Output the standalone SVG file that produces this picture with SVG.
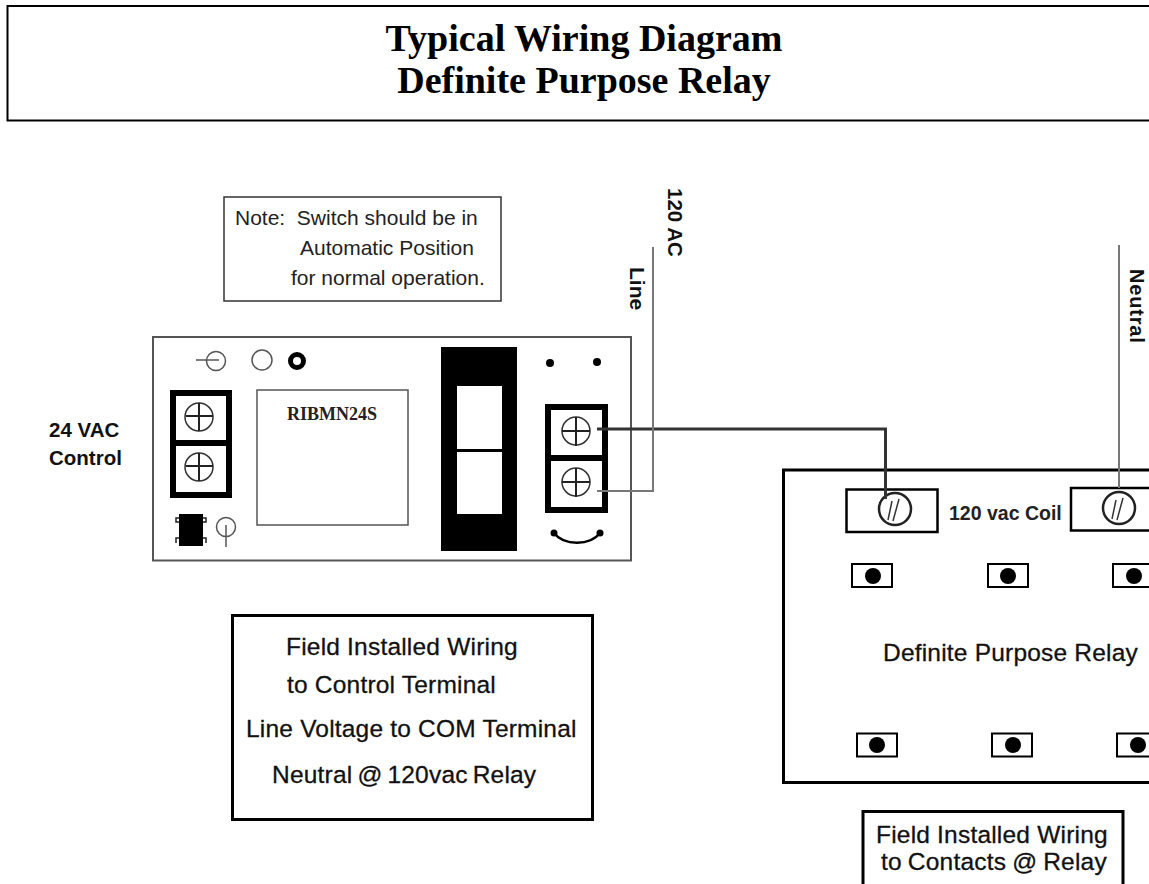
<svg xmlns="http://www.w3.org/2000/svg" width="1149" height="884" viewBox="0 0 1149 884">
<style>
.k{fill:#fff;stroke:#000;stroke-width:3}
.t{fill:#fff;stroke:#000;stroke-width:6}
.s{fill:none;stroke:#333;stroke-width:1.5}
.x{stroke:#222;stroke-width:2;fill:none}
.g{fill:#fff;stroke:#555;stroke-width:1.5}
.sw{fill:none;stroke:#555;stroke-width:1.5}
.w1{fill:none;stroke:#333;stroke-width:3}
.w2{fill:none;stroke:#777;stroke-width:2}
.a{font-family:"Liberation Sans",Arial,sans-serif;fill:#111}
.f{font-size:24.5px;letter-spacing:.2px;stroke:#111;stroke-width:.3}
.n{font-size:21px;fill:#222}
.b{font-weight:bold}
.l{font-size:20.5px}
.v{font-size:21px}
.title{font-family:"Liberation Serif","Times New Roman",serif;font-weight:bold;font-size:38px;fill:#000;text-anchor:middle}
</style>
<g id="header">
<path d="M1149 6H7.500V120.500H1149" class="k" style="stroke-width:2"/>
<text class="title" x="584" y="51">Typical Wiring Diagram</text>
<text class="title" x="584" y="93">Definite Purpose Relay</text>
</g>
<g id="note">
<rect x="224" y="197" width="277" height="104" fill="#fff" stroke="#333" stroke-width="1.500"/>
<text class="a n" x="235" y="225" xml:space="preserve">Note:  Switch should be in</text>
<text class="a n" x="300" y="255">Automatic Position</text>
<text class="a n" x="291" y="285">for normal operation.</text>
</g>
<g id="control-label">
<text class="a b l" x="49" y="437">24 VAC</text>
<text class="a b l" x="49" y="465">Control</text>
</g>
<g id="relay-module">
<rect x="153" y="337" width="478" height="223.500" class="g" style="stroke-width:2"/>
<path d="M196 360H219" class="sw"/><circle cx="216" cy="361" r="9.500" class="sw"/>
<circle cx="262" cy="360" r="10" class="sw"/>
<circle cx="297" cy="361" r="6.500" fill="#fff" stroke="#000" stroke-width="5"/>
<rect x="173" y="393" width="56" height="50" class="t"/>
<rect x="173" y="443" width="56" height="52" class="t"/>
<circle cx="199" cy="417" r="14" class="s"/><path d="M186 416H213M199 403V431" class="x"/>
<circle cx="199" cy="467" r="14" class="s"/><path d="M186 466H213M199 453V481" class="x"/>
<rect x="257" y="390" width="151" height="135" class="g"/>
<text x="332" y="420" font-family="Liberation Serif,serif" font-weight="bold" font-size="18" fill="#222" text-anchor="middle">RIBMN24S</text>
<rect x="179" y="514" width="24" height="32" fill="#000"/>
<path d="M179 518H176V522H179M203 518H206V522H203M176 543V538H179M206 543V538H203" fill="none" stroke="#222" stroke-width="1.500"/>
<circle cx="226" cy="527" r="9.500" class="sw"/><path d="M226 525V547" class="sw"/>
<rect x="441" y="347" width="76" height="204" fill="#000"/>
<rect x="457" y="386" width="45" height="63" fill="#fff"/>
<rect x="457" y="452" width="45" height="62" fill="#fff"/>
<circle cx="550" cy="363" r="4" fill="#000"/>
<circle cx="597" cy="362" r="4" fill="#000"/>
<rect x="548" y="407" width="57" height="51" class="t"/>
<rect x="548" y="458" width="57" height="52" class="t"/>
<circle cx="576" cy="431" r="14" class="s"/><path d="M562 431H590M576 417V446" class="x"/>
<circle cx="576" cy="482" r="14" class="s"/><path d="M562 482H590M576 468V497" class="x"/>
<path d="M554 533C564 546 590 546 600 533" fill="none" stroke="#000" stroke-width="2.500"/>
<circle cx="554" cy="533" r="3.500" fill="#000"/><circle cx="600" cy="533" r="3.500" fill="#000"/>
</g>
<g id="field-note">
<rect x="232.500" y="615.500" width="360" height="204" class="k"/>
<text class="a f" x="286" y="655">Field Installed Wiring</text>
<text class="a f" x="287" y="693">to Control Terminal</text>
<text class="a f" x="246" y="737">Line Voltage to COM Terminal</text>
<text class="a f" x="272" y="783" word-spacing="-2">Neutral @ 120vac Relay</text>
</g>
<g id="definite-purpose-relay">
<path d="M1149 470H783.500V782.500H1149" class="k"/>
<rect x="846.500" y="489.500" width="91" height="42.500" class="k" style="stroke-width:2.500"/>
<rect x="1071" y="488" width="80" height="42.500" class="k" style="stroke-width:2.500"/>
<circle cx="895" cy="509" r="16" fill="#fff" stroke="#222" stroke-width="2.500"/><path d="M892 501L888 520M899 499L893 521" class="s"/>
<circle cx="1119" cy="508" r="16" fill="#fff" stroke="#222" stroke-width="2.500"/><path d="M1116 500L1112 519M1123 498L1117 520" class="s"/>
<text x="949" y="520" font-family="Liberation Sans,sans-serif" font-weight="bold" font-size="19.500" fill="#222">120 vac Coil</text>
<g id="contacts">
<rect x="852" y="564" width="40" height="23" class="k" style="stroke-width:2"/><circle cx="873" cy="576" r="8" fill="#000"/>
<rect x="988" y="564" width="40" height="23" class="k" style="stroke-width:2"/><circle cx="1008" cy="576" r="8" fill="#000"/>
<rect x="1113" y="564" width="40" height="23" class="k" style="stroke-width:2"/><circle cx="1134" cy="576" r="8" fill="#000"/>
<rect x="857" y="733.500" width="40" height="23" class="k" style="stroke-width:2"/><circle cx="877" cy="745" r="8" fill="#000"/>
<rect x="992" y="733.500" width="40" height="23" class="k" style="stroke-width:2"/><circle cx="1013" cy="745" r="8" fill="#000"/>
<rect x="1117" y="733.500" width="40" height="23" class="k" style="stroke-width:2"/><circle cx="1138" cy="745" r="8" fill="#000"/>
</g>
<text class="a f" x="883" y="661">Definite Purpose Relay</text>
</g>
<g id="contacts-note">
<path d="M863 884V811.500H1123V884" class="k"/>
<text class="a f" x="876" y="843">Field Installed Wiring</text>
<text class="a f" x="881" y="870" word-spacing="-1">to Contacts @ Relay</text>
</g>
<g id="connectors">
<path d="M597 429H885.500V499" class="w1"/>
<path d="M597 491H653V247" class="w2"/>
<path d="M1119 245V488" class="w2"/>
</g>
<g id="wire-labels">
<text class="a b" font-size="20.500" transform="translate(668,188) rotate(90)">120 AC</text>
<text class="a b v" transform="translate(630,267) rotate(90)">Line</text>
<text class="a b" font-size="20" transform="translate(1130,269) rotate(90)" letter-spacing=".8">Neutral</text>
</g>
</svg>
